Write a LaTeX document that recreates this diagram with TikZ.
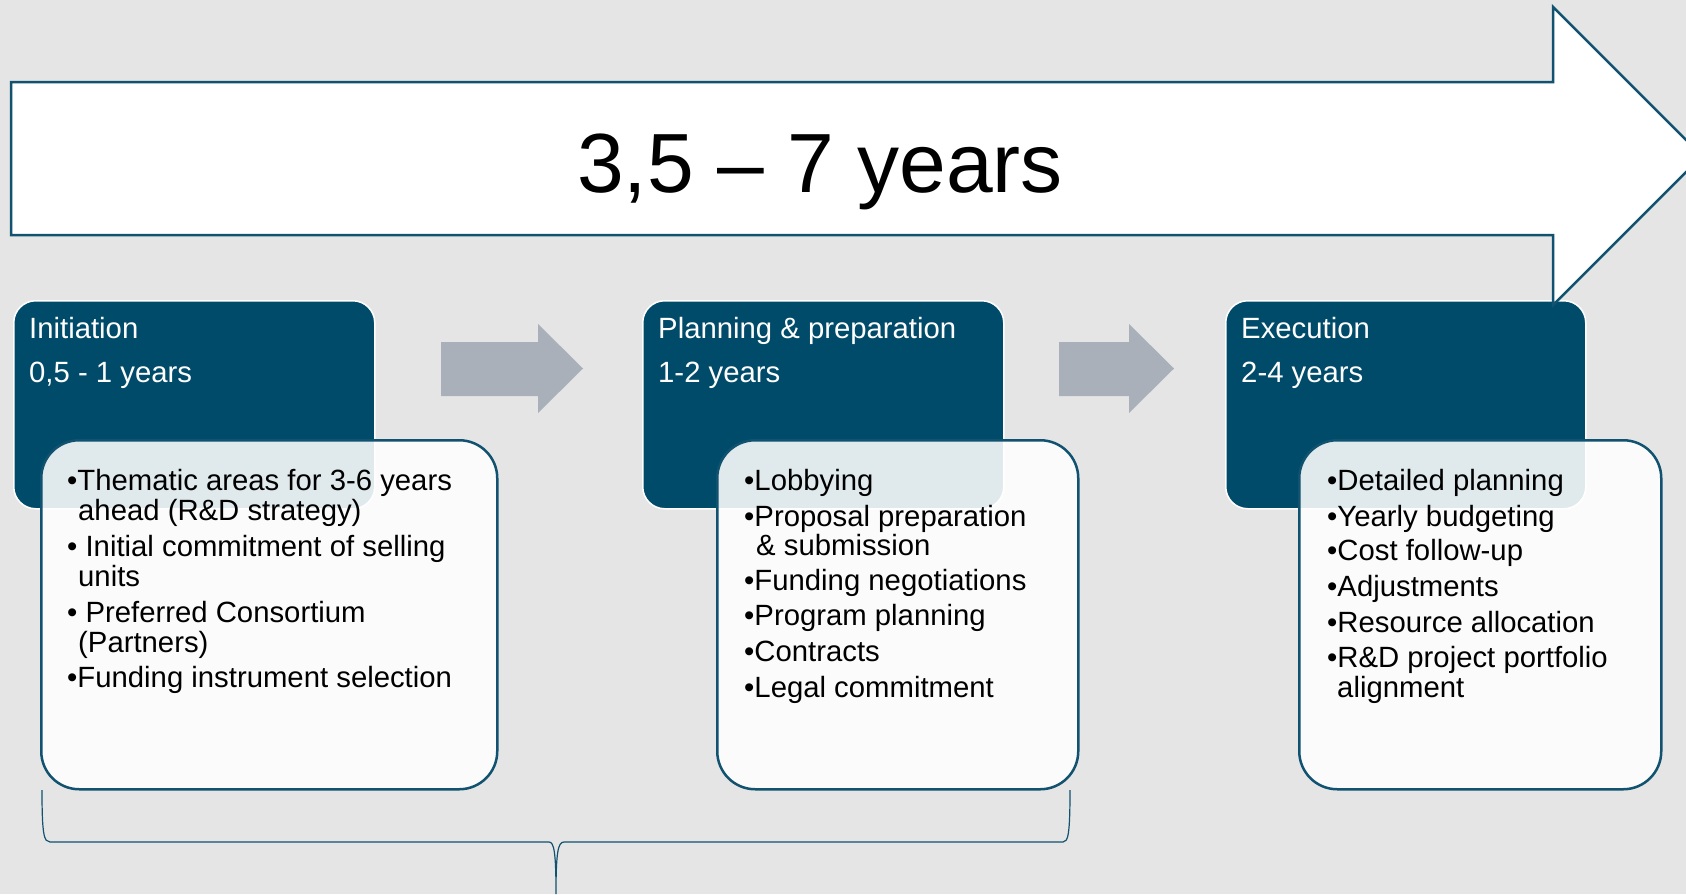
\documentclass[tikz,border=0pt]{standalone}
\usepackage{fontspec}
\setmainfont{Liberation Sans}
\definecolor{bg}{RGB}{229,229,229}
\definecolor{navy}{RGB}{0,75,106}
\definecolor{edgeblue}{RGB}{16,82,112}
\definecolor{garrow}{RGB}{170,176,185}
\begin{document}
\begin{tikzpicture}[x=1pt,y=-1pt,
  phase/.style={fill=navy, draw=white, line width=1.5pt, rounded corners=22pt, anchor=north west, inner sep=0pt},
  detail/.style={fill=white, fill opacity=0.88, draw=edgeblue, draw opacity=1, line width=2.5pt, rounded corners=38pt, anchor=north west, inner sep=0pt},
  ttl/.style={anchor=base west, text=white, inner sep=0pt, font=\fontsize{29.3}{32}\selectfont},
  itm/.style={anchor=base west, text=black, inner sep=0pt, font=\fontsize{29.3}{32}\selectfont},
  bigarrow/.style={fill=white, draw=edgeblue, line width=2.5pt, line join=miter},
  smallarrow/.style={fill=garrow},
  brace/.style={draw=edgeblue, line width=1.2pt}
]
\useasboundingbox (0,0) rectangle (1686,894);
\fill[bg] (0,0) rectangle (1686,894);
\clip (0,0) rectangle (1686,894);

% phase boxes
\node[phase, minimum width=361pt, minimum height=208pt] (p1) at (13,300) {};
\node[phase, minimum width=361pt, minimum height=208pt] (p2) at (642,300) {};
\node[phase, minimum width=360pt, minimum height=208pt] (p3) at (1225,300) {};

% big arrow
\draw[bigarrow] (11,82) -- (1553,82) -- (1553,7) -- (1702,156) -- (1553,305) -- (1553,235) -- (11,235) -- cycle;
\node[anchor=base, inner sep=0pt, font=\fontsize{84}{90}\selectfont] (span) at (820,192) {3,5 – 7 years};

% small arrows
\fill[smallarrow] (441,342) -- (538,342) -- (538,324) -- (583,368.5) -- (538,413) -- (538,396) -- (441,396) -- cycle;
\fill[smallarrow] (1059,342) -- (1129,342) -- (1129,324) -- (1174,368.5) -- (1129,413) -- (1129,396) -- (1059,396) -- cycle;

% titles
\node[ttl] (t1a) at (29,338) {Initiation};
\node[ttl] (t1b) at (29,382) {0,5 - 1 years};
\node[ttl] (t2a) at (658,338) {Planning \& preparation};
\node[ttl] (t2b) at (658,382) {1-2 years};
\node[ttl] (t3a) at (1241,338) {Execution};
\node[ttl] (t3b) at (1241,382) {2-4 years};

% detail boxes
\node[detail, minimum width=456pt, minimum height=349pt] (d1) at (40,439) {};
\node[detail, minimum width=361pt, minimum height=349pt] (d2) at (716,439) {};
\node[detail, minimum width=362pt, minimum height=349pt] (d3) at (1298,439) {};

% initiation items
\node[itm] (a1) at (67,490) {•Thematic areas for 3-6 years};
\node[itm] (a2) at (78,520) {ahead (R\&D strategy)};
\node[itm] (a3) at (67,556) {• Initial commitment of selling};
\node[itm] (a4) at (78,586) {units};
\node[itm] (a5) at (67,622) {• Preferred Consortium};
\node[itm] (a6) at (78,652) {(Partners)};
\node[itm] (a7) at (67,687) {•Funding instrument selection};

% planning items
\node[itm] (b1) at (744,490) {•Lobbying};
\node[itm] (b2) at (744,526) {•Proposal preparation};
\node[itm] (b3) at (756,555) {\& submission};
\node[itm] (b4) at (744,590) {•Funding negotiations};
\node[itm] (b5) at (744,625) {•Program planning};
\node[itm] (b6) at (744,661) {•Contracts};
\node[itm] (b7) at (744,697) {•Legal commitment};

% execution items
\node[itm] (c1) at (1327,490) {•Detailed planning};
\node[itm] (c2) at (1327,526) {•Yearly budgeting};
\node[itm] (c3) at (1327,560) {•Cost follow-up};
\node[itm] (c4) at (1327,596) {•Adjustments};
\node[itm] (c5) at (1327,632) {•Resource allocation};
\node[itm] (c6) at (1327,667) {•R\&D project portfolio};
\node[itm] (c7) at (1337,697) {alignment};

% brace
\coordinate (bl) at (42,790);
\coordinate (br) at (1070,790);
\coordinate (bm) at (556,894);
\draw[brace] (bl) .. controls (42,835) and (44,842) .. (50,842) -- (549,842)
  .. controls (554,842) and (556,852) .. (bm)
  .. controls (556,852) and (558,842) .. (564,842) -- (1063,842)
  .. controls (1068,842) and (1070,835) .. (br);
\end{tikzpicture}
\end{document}
